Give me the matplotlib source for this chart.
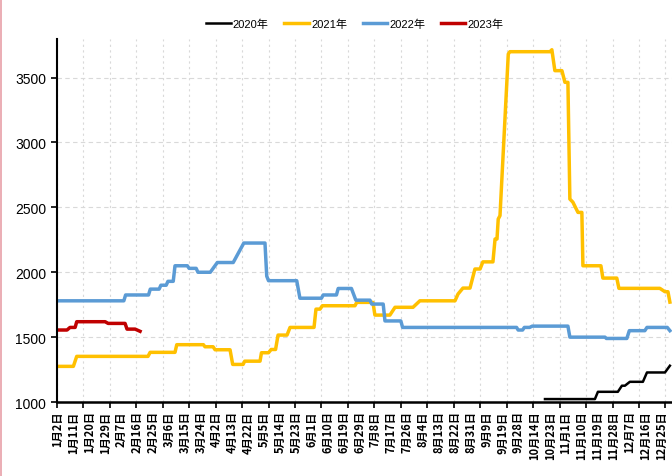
import numpy as np
import matplotlib
matplotlib.use('Agg')
import matplotlib.pyplot as plt
from matplotlib.lines import Line2D

plt.rcParams['font.family'] = ['Liberation Sans', 'Noto Sans CJK SC', 'DejaVu Sans']

# x 轴标签（交易日序号，每 9 个一个标签）
date_labels = ['1月2日', '1月11日', '1月20日', '1月29日', '2月7日', '2月16日', '2月25日',
               '3月6日', '3月15日', '3月24日', '4月2日', '4月13日', '4月22日', '5月5日',
               '5月14日', '5月23日', '6月1日', '6月10日', '6月19日', '6月29日', '7月8日',
               '7月17日', '7月26日', '8月4日', '8月13日', '8月22日', '8月31日', '9月9日',
               '9月19日', '9月28日', '10月14日', '10月23日', '11月1日', '11月10日',
               '11月19日', '11月28日', '12月7日', '12月16日', '12月25日']

# 各年份价格（交易日序号, 数值）
x_2020 = [276.7, 305, 306.7, 318, 320.3, 322, 324.8, 332.2, 334.5, 344.7, 347.5]
y_2020 = [1023, 1023, 1079, 1079, 1126, 1126, 1156, 1156, 1228, 1228, 1280]

x_2021 = [0, 9.4, 11.3, 51.7, 52.9, 67, 68, 83.1, 84, 88.6, 89.7, 98.2, 99.7, 105.6,
          106.5, 115.2, 116, 120, 121.5, 124, 125.4, 130.5, 132.2, 145.8, 146.9, 149.2,
          150.5, 152.6, 169, 170, 179.2, 180.3, 188.8, 191.7, 201.9, 205.8, 225.7, 227.4,
          230.2, 234.2, 237, 239.9, 241.5, 247.2, 248.4, 249.5, 250.2, 251.2, 255.9,
          256.8, 279.5, 280.6, 282.3, 286.3, 288, 289.7, 290.8, 292.5, 295.4, 297.6,
          298.2, 308.4, 309.5, 317.4, 318.6, 341.8, 344.7, 346.4, 347.5]
y_2021 = [1275, 1275, 1352, 1352, 1383, 1383, 1442, 1442, 1426, 1426, 1403, 1403, 1290, 1290,
          1315, 1315, 1380, 1380, 1405, 1405, 1516, 1516, 1575, 1575, 1716, 1716,
          1742, 1742, 1742, 1768, 1768, 1670, 1670, 1730, 1730, 1780, 1780, 1832,
          1878, 1878, 2025, 2025, 2080, 2080, 2256, 2256, 2410, 2436, 3681,
          3699, 3699, 3714, 3553, 3553, 3463, 3463, 2564, 2540, 2461, 2461,
          2050, 2050, 1955, 1955, 1876, 1876, 1850, 1850, 1770]

x_2022 = [0, 38, 39, 52, 53, 58, 59, 62, 63, 66, 67, 74, 75, 79, 80, 87, 91, 100, 106, 118,
          119, 120, 136, 137.8, 150, 151, 158.5, 159.5, 167, 169.5, 177.5, 178.5, 185, 186,
          195, 196, 260.6, 261.5, 264, 265, 268, 269.5, 289.7, 290.8, 310.7, 311.5, 323.1,
          324.5, 333.3, 334.5, 346, 347.5]
y_2022 = [1780, 1780, 1825, 1825, 1870, 1870, 1900, 1900, 1930, 1930, 2050, 2050, 2030, 2030,
          2000, 2000, 2075, 2075, 2225, 2225, 1970, 1935, 1935, 1800, 1800, 1825, 1825, 1875,
          1875, 1785, 1785, 1755, 1755, 1625, 1625, 1575, 1575, 1555, 1555, 1575, 1575, 1585,
          1585, 1500, 1500, 1490, 1490, 1550, 1550, 1575, 1575, 1550]

x_2023 = [0.7, 5.8, 7.5, 10.4, 11.3, 27.4, 29.1, 38.7, 39.8, 44.4, 47.2]
y_2023 = [1555, 1555, 1575, 1575, 1619, 1619, 1606, 1606, 1562, 1562, 1545]

fig = plt.figure(figsize=(6.72, 4.77), dpi=100)
ax = fig.add_axes([0.0845, 0.155, 0.915, 0.762])

ax.plot(x_2020, y_2020, color='black', lw=1.8, label='2020年')
ax.plot(x_2021, y_2021, color='#FFC000', lw=2.5, label='2021年')
ax.plot(x_2022, y_2022, color='#5B9BD5', lw=2.5, label='2022年')
ax.plot(x_2023, y_2023, color='#C00000', lw=2.5, label='2023年')

ax.set_xlim(0, 348.5)
ax.set_ylim(1000, 3800)
ax.set_yticks(np.arange(1000, 3501, 500))

# 刻度线每 15 个交易日，标签每 9 个
ax.set_xticks(np.arange(0, 346, 15))
ax.set_xticklabels([])
ax.set_xticks(np.arange(len(date_labels)) * 9 + 0.6, minor=True)
ax.set_xticklabels(date_labels, minor=True, rotation=90, fontsize=8, fontweight='bold',
                   family=['Noto Sans CJK SC', 'DejaVu Sans'])
ax.tick_params(axis='x', which='minor', length=0, pad=6)
ax.tick_params(axis='x', which='major', length=4, width=1.2, direction='out')
ax.tick_params(axis='y', length=4, width=1.2, labelsize=10)

ax.grid(axis='y', color='#D9D9D9', linestyle=(0, (4, 3)), lw=0.8)
ax.grid(axis='x', which='major', color='#D9D9D9', linestyle=(0, (2, 3)), lw=0.8)
ax.set_axisbelow(True)

for s in ['top', 'right']:
    ax.spines[s].set_visible(False)
ax.spines['left'].set_linewidth(1.5)
ax.spines['bottom'].set_linewidth(1.8)

fig.legend(loc='center', bbox_to_anchor=(0.528, 0.948), ncol=4, frameon=False,
           handlelength=2.2, handletextpad=0.2, columnspacing=1.4,
           prop={'family': ['Liberation Sans', 'Noto Sans CJK SC'], 'size': 8})

fig.add_artist(Line2D([0.002, 0.002], [0, 1], color='#E8A0A8', lw=1.2,
                      transform=fig.transFigure))

fig.savefig('out.png', dpi=100)
